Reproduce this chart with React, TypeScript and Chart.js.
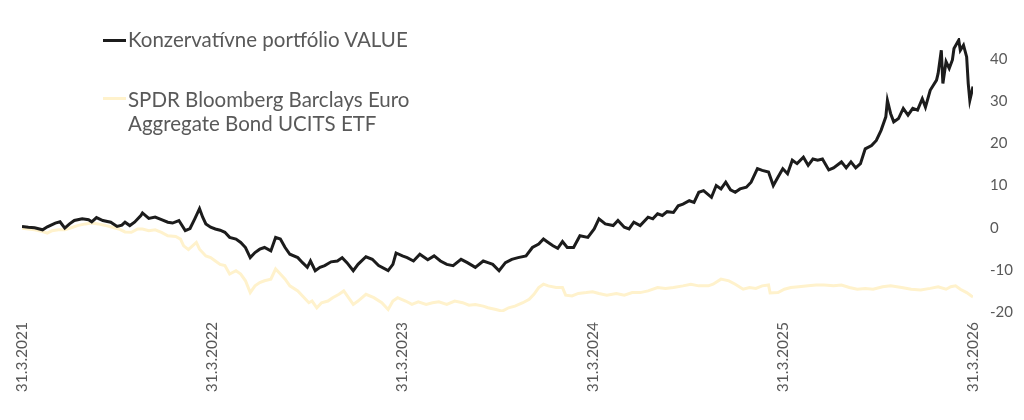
import React, { useEffect, useRef } from "react";
import { Chart, registerables } from "chart.js";

Chart.register(...registerables);

// x = months since 31.3.2021
const xTickMonths = [0, 12, 24, 36, 48, 60];
const xTickLabels = ["31.3.2021", "31.3.2022", "31.3.2023", "31.3.2024", "31.3.2025", "31.3.2026"];
const yTicks = [-20, -10, 0, 10, 20, 30, 40];

const valueSeriesName = "Konzervatívne portfólio VALUE";
const bondSeriesName = ["SPDR Bloomberg Barclays Euro", "Aggregate Bond UCITS ETF"];

const valueMonths = [
  0.0, 0.4, 0.8, 1.3, 1.6, 2.1, 2.4, 2.7, 3.0, 3.3, 3.8, 4.2, 4.4, 4.7, 5.1, 5.6, 6.0, 6.3, 6.5, 6.8,
  7.1, 7.5, 7.6, 8.0, 8.4, 8.8, 9.2, 9.5, 9.9, 10.3, 10.6, 10.9, 11.2, 11.4, 11.6, 11.9, 12.2, 12.5, 12.8, 13.1,
  13.5, 13.8, 14.1, 14.4, 14.7, 15.0, 15.3, 15.7, 16.0, 16.3, 16.6, 16.9, 17.4, 17.7, 18.0, 18.2, 18.5, 18.8, 19.1, 19.5,
  19.9, 20.2, 20.5, 20.9, 21.2, 21.7, 22.1, 22.5, 23.1, 23.4, 23.6, 24.0, 24.3, 24.7, 25.1, 25.6, 26.0, 26.4, 26.8, 27.2,
  27.7, 28.1, 28.6, 29.1, 29.4, 29.7, 30.1, 30.5, 30.9, 31.3, 31.8, 32.2, 32.6, 32.9, 33.2, 33.5, 33.8, 34.1, 34.4, 34.8,
  35.2, 35.7, 36.1, 36.4, 36.8, 37.3, 37.6, 38.0, 38.3, 38.6, 39.0, 39.5, 39.8, 40.1, 40.4, 40.7, 41.1, 41.4, 41.7, 42.1,
  42.4, 42.7, 43.0, 43.5, 43.8, 44.1, 44.4, 44.7, 45.0, 45.3, 45.7, 46.0, 46.4, 46.7, 47.1, 47.4, 47.7, 48.0, 48.3, 48.6,
  48.9, 49.3, 49.6, 49.9, 50.2, 50.5, 50.9, 51.2, 51.7, 52.0, 52.3, 52.6, 52.9, 53.2, 53.6, 53.9, 54.2, 54.5, 54.6, 54.8,
  55.0, 55.3, 55.6, 55.9, 56.2, 56.5, 56.8, 57.0, 57.3, 57.7, 57.8, 58.0, 58.1, 58.3, 58.5, 58.7, 58.8, 59.1, 59.2, 59.4,
  59.6, 59.7, 59.8, 60.0,
];
const valueReturns = [
  0.3, 0.1, 0.0, -0.5, 0.2, 1.1, 1.4, -0.1, 0.9, 1.7, 2.1, 1.9, 1.4, 2.4, 1.7, 1.3, 0.3, 0.6, 1.3, 0.5,
  1.3, 2.9, 3.5, 2.2, 2.5, 1.9, 1.3, 1.1, 1.7, -0.7, -0.2, 2.1, 4.5, 2.5, 0.9, 0.1, -0.3, -0.6, -1.1, -2.3,
  -2.7, -3.5, -4.7, -7.1, -5.9, -5.1, -4.7, -5.5, -2.3, -2.7, -4.7, -6.3, -7.1, -8.3, -9.4, -7.9, -10.2, -9.4, -9.0, -8.1,
  -7.9, -7.1, -8.3, -10.2, -8.7, -6.9, -7.5, -9.0, -10.2, -8.7, -6.0, -6.7, -7.1, -7.9, -6.3, -7.6, -6.7, -7.9, -8.7, -9.0,
  -7.5, -8.3, -9.4, -7.9, -8.3, -8.7, -10.2, -8.3, -7.5, -7.1, -6.7, -4.7, -3.9, -2.7, -3.5, -4.3, -4.9, -3.3, -4.7, -4.7,
  -1.9, -2.3, -0.3, 2.1, 0.9, 0.5, 1.7, 0.1, -0.3, 1.3, 0.5, 2.5, 2.1, 3.3, 2.9, 3.8, 3.6, 5.2, 5.6, 6.4,
  6.0, 8.4, 8.8, 7.2, 10.0, 9.2, 10.8, 9.0, 8.4, 9.2, 9.6, 10.8, 14.0, 13.6, 13.2, 10.0, 12.0, 14.0, 12.8, 16.0,
  15.2, 16.7, 14.8, 16.3, 16.0, 16.3, 13.7, 14.2, 15.6, 14.2, 15.6, 14.2, 15.2, 18.7, 19.5, 20.7, 23.1, 26.3, 30.2, 27.1,
  25.1, 25.9, 28.3, 26.7, 28.3, 27.9, 30.6, 28.6, 32.6, 35.0, 36.6, 42.1, 34.2, 39.4, 37.8, 39.8, 42.5, 44.5, 42.1, 43.3,
  40.5, 34.2, 30.2, 33.5,
];

const bondMonths = [
  0.0, 0.4, 0.8, 1.3, 1.6, 1.9, 2.3, 2.7, 3.2, 3.5, 4.0, 4.4, 4.8, 5.2, 5.7, 6.1, 6.5, 6.9, 7.3, 7.6,
  8.0, 8.4, 8.8, 9.2, 9.7, 10.0, 10.2, 10.5, 11.0, 11.2, 11.6, 11.9, 12.2, 12.5, 12.8, 13.1, 13.5, 13.8, 14.1, 14.4,
  14.7, 15.0, 15.3, 15.7, 16.0, 16.3, 16.6, 16.9, 17.4, 17.7, 18.1, 18.3, 18.6, 18.9, 19.3, 19.6, 20.0, 20.3, 20.6, 20.9,
  21.2, 21.7, 22.2, 22.7, 23.1, 23.4, 23.7, 24.2, 24.6, 25.0, 25.5, 25.9, 26.3, 26.8, 27.3, 27.8, 28.2, 28.6, 29.1, 29.4,
  29.9, 30.3, 30.7, 31.1, 31.6, 32.0, 32.3, 32.6, 32.9, 33.2, 33.7, 34.1, 34.3, 34.7, 35.1, 35.6, 36.0, 36.4, 36.9, 37.5,
  38.0, 38.5, 39.0, 39.5, 40.1, 40.6, 41.1, 41.7, 42.2, 42.7, 43.3, 43.6, 44.1, 44.6, 45.0, 45.5, 45.9, 46.3, 46.7, 47.1,
  47.2, 47.7, 48.1, 48.5, 49.0, 49.6, 50.1, 50.6, 51.2, 51.7, 52.2, 52.7, 53.2, 53.7, 54.3, 54.8, 55.5, 56.1, 56.7, 57.3,
  57.8, 58.3, 58.6, 58.9, 59.2, 59.6, 59.9, 60.0,
];
const bondReturns = [
  -0.1, -0.3, -0.5, -0.9, -1.3, -0.7, -0.5, -0.5, 0.1, 0.5, 0.9, 1.1, 0.9, 0.6, 0.1, -0.3, -1.0, -1.1, -0.3, -0.3,
  -0.7, -0.5, -1.1, -1.9, -2.1, -2.7, -4.3, -5.2, -3.5, -5.1, -6.7, -7.1, -7.9, -8.7, -9.0, -11.0, -10.2, -11.0, -12.6, -15.4,
  -13.8, -13.0, -12.6, -12.2, -9.8, -11.0, -12.2, -13.8, -15.0, -16.2, -17.8, -17.4, -19.0, -17.8, -17.4, -16.6, -15.8, -15.0, -16.6, -18.2,
  -17.4, -15.8, -16.6, -17.8, -19.4, -17.4, -16.6, -17.4, -18.2, -17.6, -18.2, -17.8, -17.6, -18.2, -17.4, -17.8, -18.4, -18.2, -18.6, -19.0,
  -19.4, -19.8, -19.0, -18.6, -17.8, -17.0, -15.8, -14.2, -13.4, -13.8, -14.2, -14.2, -16.0, -16.2, -15.6, -15.4, -15.2, -15.6, -16.0, -15.6,
  -16.0, -15.4, -15.4, -15.0, -14.2, -14.4, -14.2, -13.8, -13.4, -13.8, -13.8, -13.4, -12.2, -12.6, -13.4, -14.6, -14.2, -14.4, -13.8, -13.6,
  -15.5, -15.4, -14.6, -14.2, -14.0, -13.8, -13.6, -13.6, -13.8, -13.6, -14.2, -14.6, -14.4, -14.6, -14.0, -13.8, -14.2, -14.6, -14.8, -14.4,
  -14.0, -14.6, -14.0, -13.8, -14.6, -15.4, -16.2, -16.4,
];

const BLACK = "#1c1c1c";
const GOLD = "#fff2cc";
const TEXT = "#595959";
const FONT = "Lato, 'Open Sans', sans-serif";

function pts(xs: number[], ys: number[]) {
  return xs.map((x, i) => ({ x, y: ys[i] }));
}

export default function App() {
  const canvasRef = useRef<HTMLCanvasElement | null>(null);

  useEffect(() => {
    const canvas = canvasRef.current;
    if (!canvas) return;
    const chart = new Chart(canvas, {
      type: "line",
      data: {
        datasets: [
          {
            label: valueSeriesName,
            data: pts(valueMonths, valueReturns),
            borderColor: BLACK,
            borderWidth: 3,
            pointRadius: 0,
            tension: 0,
          },
          {
            label: bondSeriesName.join(" "),
            data: pts(bondMonths, bondReturns),
            borderColor: GOLD,
            borderWidth: 3,
            pointRadius: 0,
            tension: 0,
          },
        ],
      },
      options: {
        responsive: false,
        animation: false,
        layout: { padding: { left: 14, top: 30, right: 0, bottom: 0 } },
        plugins: { legend: { display: false }, tooltip: { enabled: false } },
        scales: {
          x: {
            type: "linear",
            min: 0,
            max: 60,
            grid: { display: false, drawTicks: false },
            border: { display: false },
            afterBuildTicks: (axis: any) => {
              axis.ticks = xTickMonths.map((v) => ({ value: v }));
            },
            afterFit: (axis: any) => {
              axis.height = 100;
            },
            ticks: {
              autoSkip: false,
              minRotation: 90,
              maxRotation: 90,
              padding: 10,
              color: TEXT,
              font: { family: FONT, size: 15.5 },
              callback: (v: any) => {
                const i = xTickMonths.indexOf(Number(v));
                return i >= 0 ? xTickLabels[i] : "";
              },
            },
          },
          y: {
            position: "right",
            min: -20,
            max: 45,
            grid: { display: false, drawTicks: false },
            border: { display: false },
            afterBuildTicks: (axis: any) => {
              axis.ticks = yTicks.map((v) => ({ value: v }));
            },
            afterFit: (axis: any) => {
              axis.width = 43;
            },
            ticks: {
              padding: 17,
              color: TEXT,
              font: { family: FONT, size: 15 },
            },
          },
        },
      },
    } as any);
    return () => chart.destroy();
  }, []);

  const legendText: React.CSSProperties = {
    position: "absolute",
    left: 120,
    fontFamily: FONT,
    fontSize: 20.5,
    lineHeight: "24px",
    color: TEXT,
    whiteSpace: "nowrap",
  };
  const marker = (top: number, color: string): React.CSSProperties => ({
    position: "absolute",
    left: 95,
    top,
    width: 23,
    height: 3,
    background: color,
  });

  return (
    <div style={{ position: "relative", width: 1008, height: 404 }}>
      <canvas ref={canvasRef} width={1008} height={404} style={{ display: "block" }} />
      <div style={marker(31, BLACK)} />
      <div style={{ ...legendText, top: 19 }}>{valueSeriesName}</div>
      <div style={marker(89, GOLD)} />
      <div style={{ ...legendText, top: 79 }}>
        {bondSeriesName[0]}
        <br />
        {bondSeriesName[1]}
      </div>
    </div>
  );
}
